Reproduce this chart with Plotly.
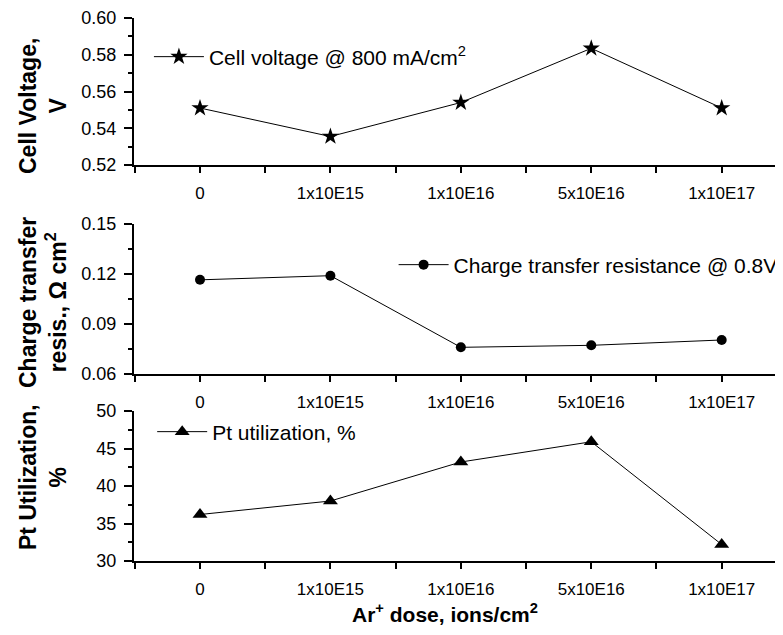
import plotly.graph_objects as go

# ---- data ----
doses = ["0", "1x10E15", "1x10E16", "5x10E16", "1x10E17"]
cell_voltage = [0.551, 0.5355, 0.554, 0.5835, 0.551]
ct_resistance = [0.1165, 0.119, 0.076, 0.0772, 0.0804]
pt_utilization = [36.2, 38.0, 43.2, 45.9, 32.2]

x_pos = list(range(len(doses)))
FONT = "Liberation Sans, Arial, sans-serif"

fig = go.Figure()
fig.add_trace(go.Scatter(
    x=x_pos, y=cell_voltage, mode="lines+markers", name="Cell voltage @ 800 mA/cm<sup>2</sup>",
    line=dict(color="black", width=1), marker=dict(symbol="star", size=13, color="black"),
    xaxis="x", yaxis="y", legend="legend"))
fig.add_trace(go.Scatter(
    x=x_pos, y=ct_resistance, mode="lines+markers", name="Charge transfer resistance @ 0.8V",
    line=dict(color="black", width=1), marker=dict(symbol="circle", size=10, color="black"),
    xaxis="x2", yaxis="y2", legend="legend2"))
fig.add_trace(go.Scatter(
    x=x_pos, y=pt_utilization, mode="lines+markers", name="Pt utilization, %",
    line=dict(color="black", width=1), marker=dict(symbol="triangle-up", size=13, color="black"),
    xaxis="x3", yaxis="y3", legend="legend3"))

xcommon = dict(range=[-0.506, 4.47], tickvals=x_pos, ticktext=doses, showline=True, linecolor="black",
               linewidth=2, ticks="outside", ticklen=6, tickwidth=1.5, tickcolor="black",
               showgrid=False, zeroline=False, tickfont=dict(family=FONT, size=17, color="black"),
               ticklabelstandoff=6, domain=[0, 1],
               minor=dict(tickvals=[-0.5, 0.5, 1.5, 2.5, 3.5], ticks="outside", ticklen=6,
                          tickwidth=1.5, tickcolor="black"))
ycommon = dict(showline=True, linecolor="black", linewidth=2, ticks="outside", ticklen=8,
               tickwidth=1.5, tickcolor="black", showgrid=False, zeroline=False,
               tickfont=dict(family=FONT, size=18, color="black"), ticklabelstandoff=4)

legend_style = dict(xanchor="left", yanchor="middle", bgcolor="rgba(0,0,0,0)", itemwidth=50,
                    font=dict(family=FONT, size=21, color="black"))

# page body has an 8px margin: shrink the figure so everything lands where the reference has it
fig.update_layout(
    width=775, height=627,
    margin=dict(l=126, r=0, t=10, b=74),
    paper_bgcolor="white", plot_bgcolor="white",
    font=dict(family=FONT, color="black"),
    xaxis=dict(anchor="y", **xcommon),
    xaxis2=dict(anchor="y2", **xcommon),
    xaxis3=dict(anchor="y3", **xcommon),
    yaxis=dict(anchor="x", domain=[0.7293, 1.0], range=[0.52, 0.60], dtick=0.02, tickformat=".2f",
               minor=dict(dtick=0.01, ticks="outside", ticklen=4, tickcolor="black"), **ycommon),
    yaxis2=dict(anchor="x2", domain=[0.3444, 0.6206], range=[0.06, 0.15], dtick=0.03, tickformat=".2f",
                minor=dict(dtick=0.015, ticks="outside", ticklen=4, tickcolor="black"), **ycommon),
    yaxis3=dict(anchor="x3", domain=[0, 0.2762], range=[30, 50], dtick=5,
                minor=dict(dtick=2.5, ticks="outside", ticklen=4, tickcolor="black"), **ycommon),
    legend=dict(x=0.023, y=(561 - 57) / 543, **legend_style),
    legend2=dict(x=0.4, y=(561 - 265) / 543, **legend_style),
    legend3=dict(x=0.028, y=(561 - 432) / 543, **legend_style),
    showlegend=True,
)

titles = [
    ("Cell Voltage,<br>V", (561 - 106) / 543),
    ("Charge transfer<br>resis., \u03a9 cm<sup>2</sup>", (561 - 303) / 543),
    ("Pt Utilization,<br>%", (561 - 477) / 543),
]
for txt, yc in titles:
    fig.add_annotation(text="<b>" + txt + "</b>", xref="paper", yref="paper", x=(43 - 134) / 649, y=yc,
                       xanchor="center", yanchor="middle", textangle=-90, showarrow=False,
                       font=dict(family=FONT, size=23, color="black"))

fig.add_annotation(text="<b>Ar<sup>+</sup> dose, ions/cm<sup>2</sup></b>", xref="paper", yref="paper",
                   x=(445 - 134) / 649, y=(561 - 613) / 543, xanchor="center", yanchor="middle",
                   showarrow=False, font=dict(family=FONT, size=21, color="black"))

fig.write_html("out.html")
